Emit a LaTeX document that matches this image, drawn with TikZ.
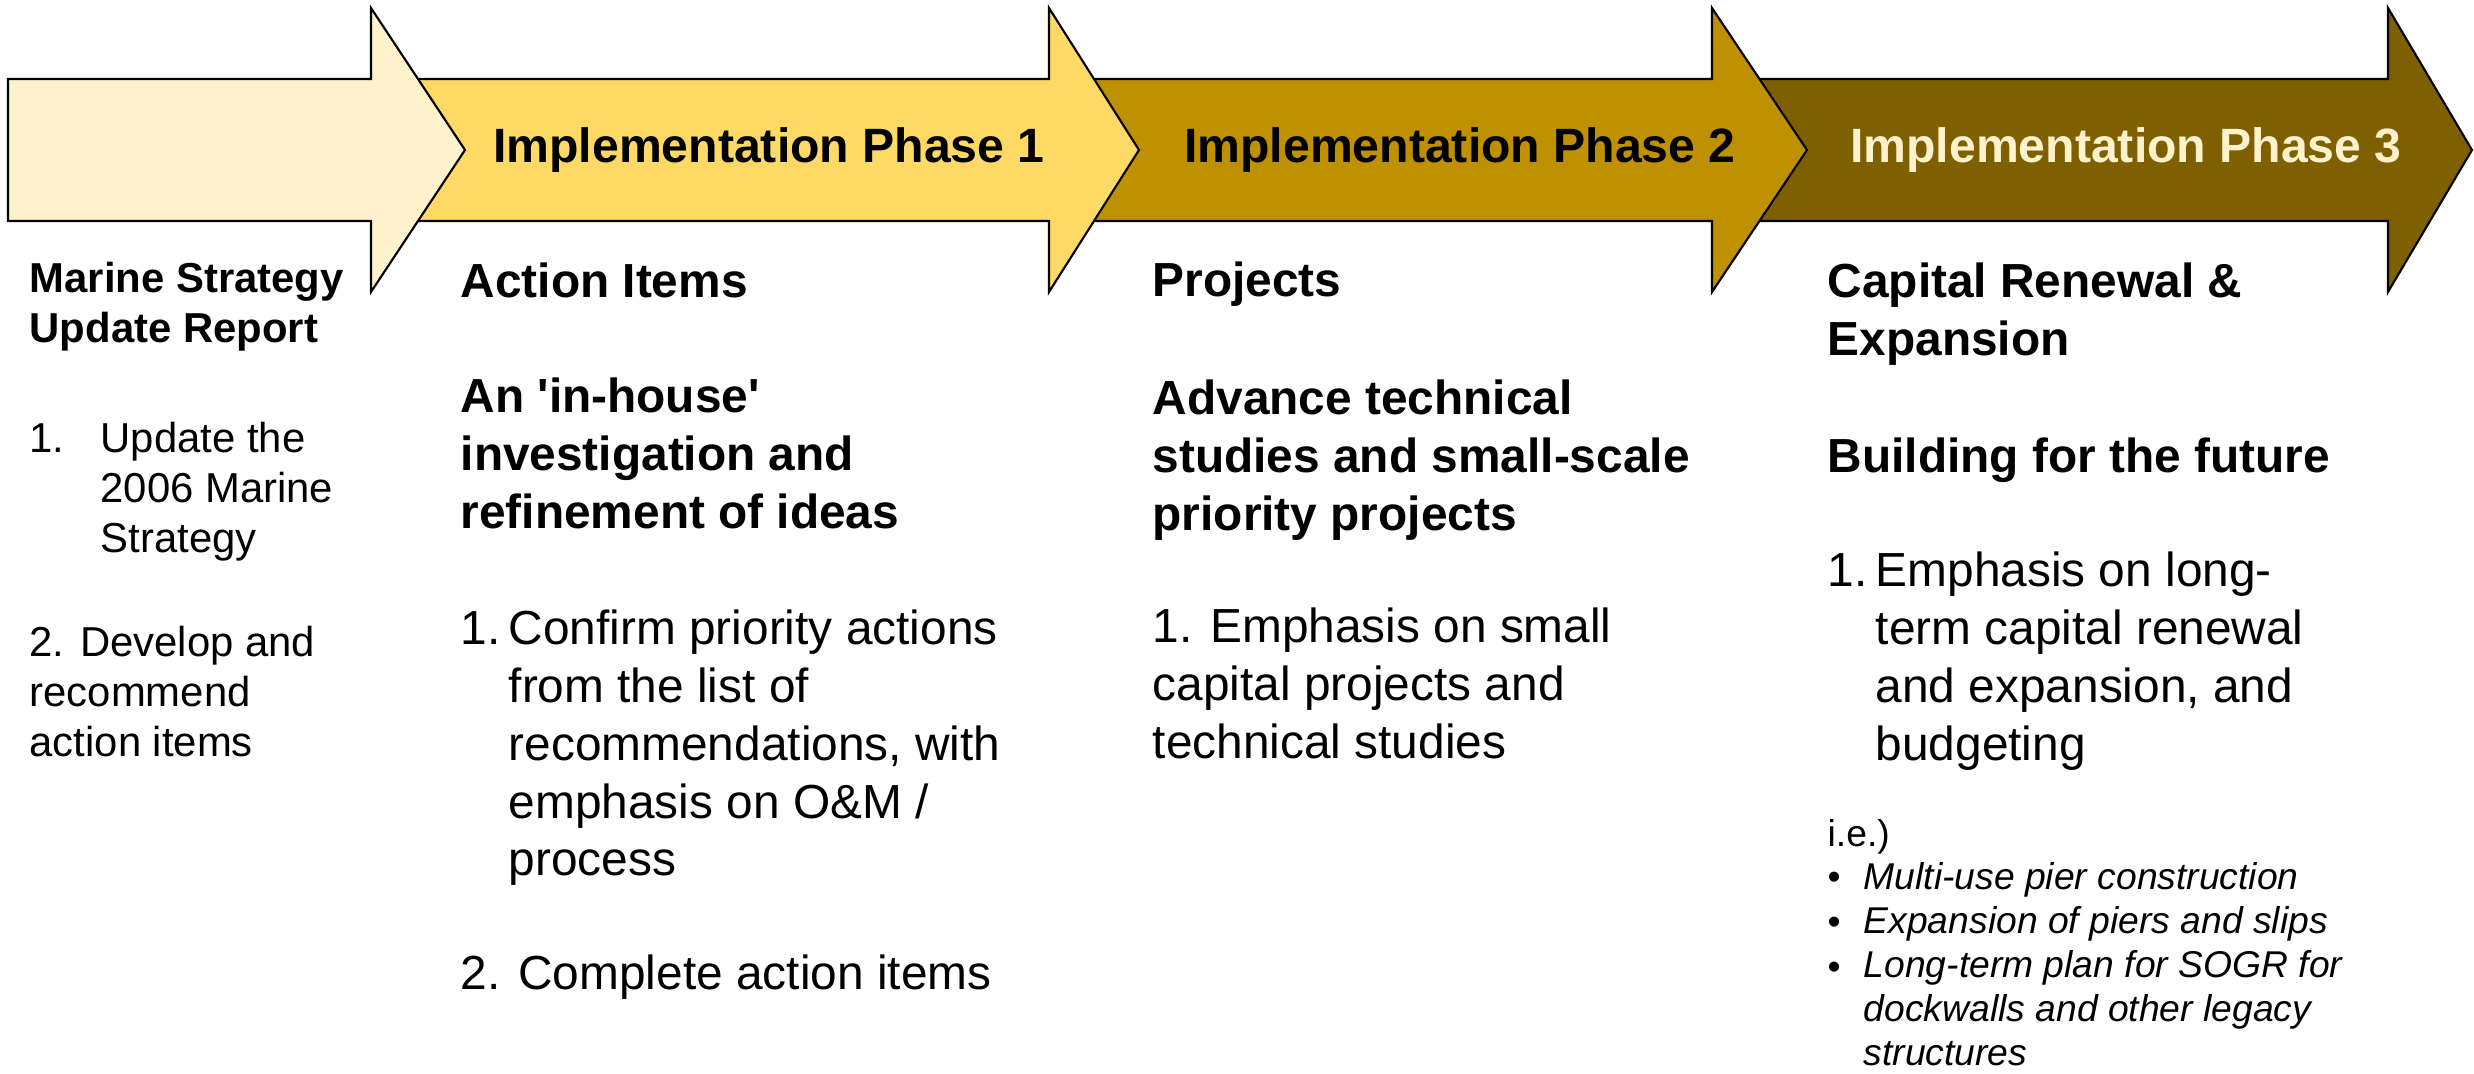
\documentclass[tikz,border=0pt]{standalone}
\usepackage{fontspec}
\setmainfont{Liberation Sans}
\usepackage{tikz}
\usetikzlibrary{positioning}

\definecolor{creamgold}{HTML}{FFF2CC}
\definecolor{lightgold}{HTML}{FFD966}
\definecolor{darkgold}{HTML}{BF9000}
\definecolor{olivegold}{HTML}{7F6000}

% lines stacked from the baseline of the first one
\newcommand{\linestack}[1]{\begin{tabular}[t]{@{}l@{}}#1\end{tabular}}

\begin{document}
\begin{tikzpicture}[x=0.01cm, y=-0.01cm,
                phase/.style={draw=black, line width=0.6pt, line join=miter},
                phasetitle/.style={inner sep=0pt, font=\fontsize{13.7}{16}\selectfont\bfseries},
                colhead/.style={anchor=base west, inner sep=0pt, font=\fontsize{13.6}{16.4}\selectfont\bfseries},
                colbody/.style={anchor=base west, inner sep=0pt, font=\fontsize{13.6}{16.4}\selectfont},
                lefthead/.style={anchor=base west, inner sep=0pt, font=\fontsize{11.9}{14.2}\selectfont\bfseries},
                leftbody/.style={anchor=base west, inner sep=0pt, font=\fontsize{11.9}{14.2}\selectfont},
                notetext/.style={anchor=base west, inner sep=0pt, font=\fontsize{10.6}{12.5}\selectfont},
                exampletext/.style={notetext, font=\fontsize{10.6}{12.5}\selectfont\itshape}]
                \useasboundingbox (0,0) rectangle (2474,1074);

                % phase arrows, drawn from right to left
                \draw[phase, fill=olivegold] (1750,79) -- (2388,79) -- (2388,8) -- (2472,150)
                    -- (2388,292) -- (2388,221) -- (1750,221) -- cycle;
                \draw[phase, fill=darkgold] (1080,79) -- (1712,79) -- (1712,8) -- (1807,150)
                    -- (1712,292) -- (1712,221) -- (1080,221) -- cycle;
                \draw[phase, fill=lightgold] (400,79) -- (1049,79) -- (1049,8) -- (1139,150)
                    -- (1049,292) -- (1049,221) -- (400,221) -- cycle;
                \draw[phase, fill=creamgold] (8,79) -- (371,79) -- (371,8) -- (465,150)
                    -- (371,292) -- (371,221) -- (8,221) -- cycle;

                \node[phasetitle] (ph1) at (769,150) {Implementation Phase 1};
                \node[phasetitle] (ph2) at (1460,150) {Implementation Phase 2};
                \node[phasetitle, text=creamgold] (ph3) at (2126,150) {Implementation Phase 3};

                % report column
                \node[lefthead] (rephead) at (29,293) {\linestack{Marine Strategy\\Update Report}};
                \node[leftbody] (repnum1) at (29,453) {1.};
                \node[leftbody] (repitem1) at (100,453) {\linestack{Update the\\2006 Marine\\Strategy}};
                \node[leftbody] (repitem2) at (29,657) {\linestack{2. Develop and\\recommend\\action items}};

                % phase 1 column
                \node[colhead] (onehead) at (460,298) {Action Items};
                \node[colhead] (onesub) at (460,413) {\linestack{An \textquotesingle in-house\textquotesingle\\investigation and\\refinement of ideas}};
                \node[colbody] (onenum1) at (460,645) {1.};
                \node[colbody] (oneitem1) at (508,645) {\linestack{Confirm priority actions\\from the list of\\recommendations, with\\emphasis on O\&M /\\process}};
                \node[colbody] (oneitem2) at (460,990) {2. Complete action items};

                % phase 2 column
                \node[colhead] (twohead) at (1152,297) {Projects};
                \node[colhead] (twosub) at (1152,415) {\linestack{Advance technical\\studies and small-scale\\priority projects}};
                \node[colbody] (twoitem1) at (1152,643) {\linestack{1. Emphasis on small\\capital projects and\\technical studies}};

                % phase 3 column
                \node[colhead] (threehead) at (1827,298) {\linestack{Capital Renewal \&\\Expansion}};
                \node[colhead] (threesub) at (1827,473) {Building for the future};
                \node[colbody] (threenum1) at (1827,587) {1.};
                \node[colbody] (threeitem1) at (1875,587) {\linestack{Emphasis on long-\\term capital renewal\\and expansion, and\\budgeting}};
                \node[notetext] (ie) at (1827,847) {i.e.)};
                \node[notetext] (dot1) at (1827,890) {\textbullet};
                \node[notetext] (dot2) at (1827,935) {\textbullet};
                \node[notetext] (dot3) at (1827,980) {\textbullet};
                \node[exampletext] (examples) at (1863,890) {\linestack{Multi-use pier construction\\Expansion of piers and slips\\Long-term plan for SOGR for\\dockwalls and other legacy\\structures}};
\end{tikzpicture}
\end{document}
